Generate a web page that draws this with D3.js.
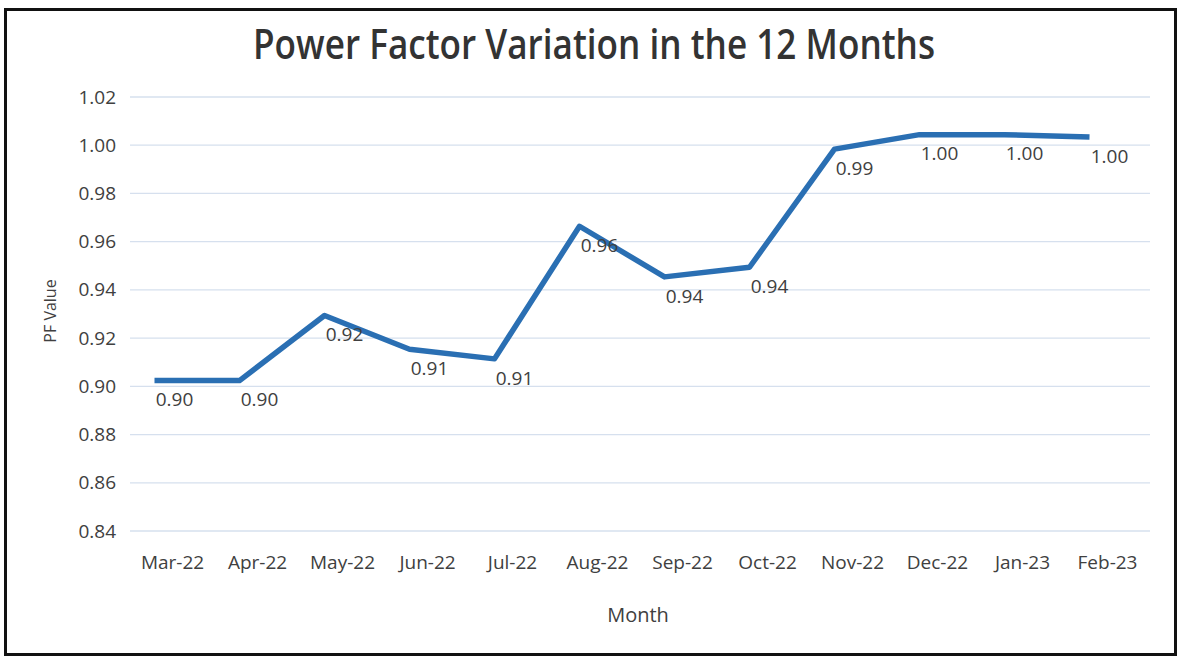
<!DOCTYPE html>
<html>
<head>
<meta charset="utf-8">
<script src="https://d3js.org/d3.v7.min.js"></script>
<style>
    body { margin: 0; background: #ffffff; }
    text { font-family: "Open Sans", "Noto Sans", sans-serif; }
</style>
</head>
<body>
<div id="chart"></div>
<script>
// chart data
const months   = ["Mar-22", "Apr-22", "May-22", "Jun-22", "Jul-22", "Aug-22",
                  "Sep-22", "Oct-22", "Nov-22", "Dec-22", "Jan-23", "Feb-23"];
const pfValues = [0.897, 0.897, 0.924, 0.910, 0.906, 0.961,
                  0.940, 0.944, 0.993, 0.999, 0.999, 0.998];
const yTicks   = [0.84, 0.86, 0.88, 0.90, 0.92, 0.94, 0.96, 0.98, 1.00, 1.02];

const chartTitle = "Power Factor Variation in the 12 Months";
const xTitle     = "Month";
const yTitle     = "PF Value";

let width  = 1178;
let height = 659;

var margin = {top: 97, right: 28, bottom: 128, left: 130},
    plotW  = width - margin.left - margin.right,
    plotH  = height - margin.top - margin.bottom;

var svg = d3.select("#chart")
    .append("svg")
    .attr("width", width)
    .attr("height", height);

// outer frame of the scanned chart
svg.append("rect")
    .attr("x", 5.5)
    .attr("y", 9.5)
    .attr("width", 1170)
    .attr("height", 645)
    .attr("fill", "none")
    .attr("stroke", "#111")
    .attr("stroke-width", 3);

var g = svg.append("g")
    .attr("transform", "translate(" + margin.left + "," + margin.top + ")");

var x = d3.scaleBand()
    .domain(months)
    .range([0, plotW])
    .padding(0);

var y = d3.scaleLinear()
    .domain([0.84, 1.02])
    .range([plotH, 0]);

// horizontal gridlines
g.selectAll("line.grid")
    .data(yTicks)
    .enter()
    .append("line")
    .attr("class", "grid")
    .attr("x1", 0)
    .attr("x2", plotW)
    .attr("y1", d => y(d))
    .attr("y2", d => y(d))
    .attr("stroke", "#d6e0ee")
    .attr("stroke-width", 1.3);

// y axis labels
var yAxis = g.append("g")
    .call(d3.axisLeft(y).tickValues(yTicks).tickFormat(d3.format(".2f")).tickSize(0).tickPadding(14));
yAxis.select(".domain").remove();
yAxis.selectAll("text")
    .attr("font-size", 19)
    .attr("fill", "#404040")
    .style("font-family", "'Open Sans', sans-serif");

// x axis labels
var xAxis = g.append("g")
    .attr("transform", "translate(0," + plotH + ")")
    .call(d3.axisBottom(x).tickSize(0).tickPadding(25));
xAxis.select(".domain").remove();
xAxis.selectAll("text")
    .attr("font-size", 19)
    .attr("fill", "#404040")
    .style("font-family", "'Open Sans', sans-serif");

// the blue line (the scan shows it slightly off register from the text)
var line = d3.line()
    .x((d, i) => x(months[i]) + x.bandwidth() / 2)
    .y(d => y(d));

g.append("path")
    .datum(pfValues)
    .attr("transform", "translate(-18,-13)")
    .attr("d", line)
    .attr("fill", "none")
    .attr("stroke", "#2a6fb3")
    .attr("stroke-width", 5.5)
    .attr("stroke-linejoin", "round")
    .attr("stroke-linecap", "butt");

// data labels, below each point
g.selectAll("text.lbl")
    .data(pfValues)
    .enter()
    .append("text")
    .attr("class", "lbl")
    .attr("x", (d, i) => x(months[i]) + x.bandwidth() / 2 + 2)
    .attr("y", d => y(d) + 6)
    .attr("dy", "0.35em")
    .attr("text-anchor", "middle")
    .attr("font-size", 19)
    .attr("fill", "#404040")
    .text(d => d3.format(".2f")(d));

// titles
svg.append("text")
    .attr("x", 594)
    .attr("y", 59)
    .attr("text-anchor", "middle")
    .attr("font-size", 41)
    .attr("font-weight", 600)
    .attr("fill", "#333")
    .attr("textLength", 682)
    .attr("lengthAdjust", "spacingAndGlyphs")
    .text(chartTitle);

svg.append("text")
    .attr("x", 638)
    .attr("y", 622)
    .attr("text-anchor", "middle")
    .attr("font-size", 20)
    .attr("fill", "#404040")
    .text(xTitle);

svg.append("text")
    .attr("transform", "translate(56,311) rotate(-90)")
    .attr("text-anchor", "middle")
    .attr("font-size", 16)
    .attr("fill", "#404040")
    .text(yTitle);
</script>
</body>
</html>
